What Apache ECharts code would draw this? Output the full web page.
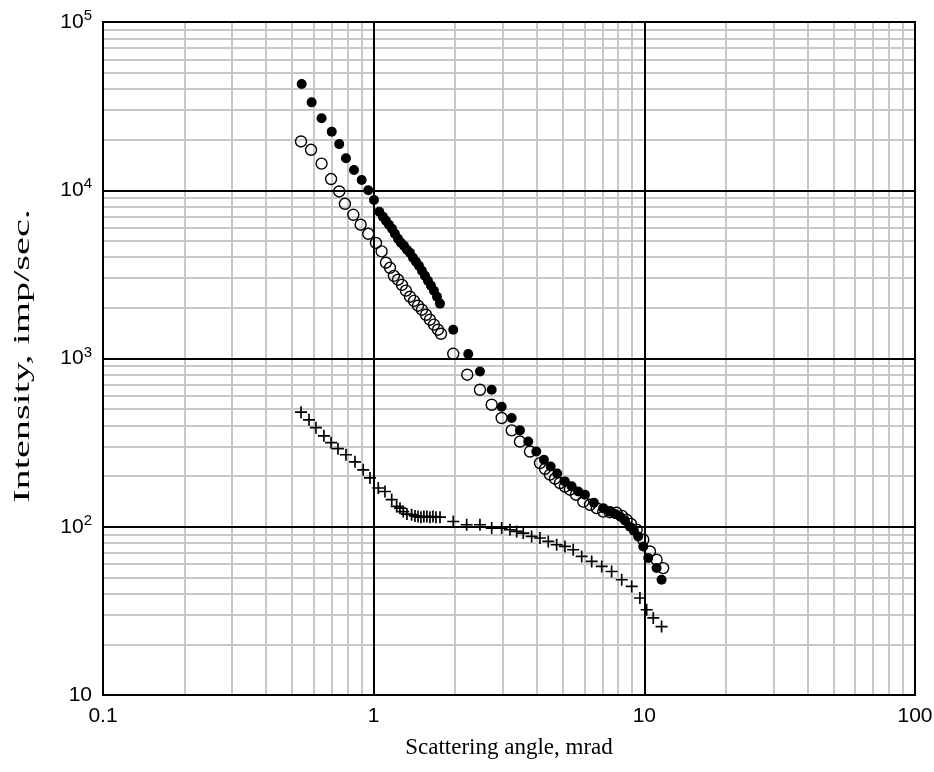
<!DOCTYPE html>
<html>
<head>
<meta charset="utf-8">
<script src="https://cdn.jsdelivr.net/npm/echarts@6/dist/echarts.min.js"></script>
<style>
  html, body { margin: 0; padding: 0; background: #fff; }
  #chart { width: 934px; height: 772px; }
</style>
</head>
<body>
<div id="chart"></div>
<script>
// filled circles
var filledX = [0.542, 0.590, 0.642, 0.700, 0.746, 0.790, 0.846, 0.903, 0.955, 1.003,
  1.049, 1.082, 1.110, 1.139, 1.169, 1.198, 1.230, 1.261, 1.294, 1.327,
  1.362, 1.397, 1.433, 1.470, 1.508, 1.547, 1.587, 1.628, 1.670, 1.714,
  1.758, 1.968, 2.236, 2.47, 2.729, 2.971, 3.235, 3.471, 3.725, 3.988,
  4.257, 4.508, 4.767, 5.089, 5.388, 5.699, 6.034, 6.513, 7.05, 7.46,
  7.79, 8.13, 8.48, 8.85, 9.15, 9.49, 9.91, 10.34, 11.10, 11.58];
var filledY = [42800, 33300, 26800, 22300, 18800, 15500, 13200, 11500, 10000, 8750,
  7460, 6960, 6590, 6240, 5900, 5510, 5150, 4880, 4680, 4430,
  4250, 3970, 3760, 3560, 3320, 3100, 2900, 2710, 2530, 2330,
  2120, 1483, 1063, 837, 652, 517, 443, 374, 321, 280,
  250, 228, 207, 186, 174, 162, 155, 139, 129, 123,
  119, 115, 109, 100, 94.7, 87.6, 76.4, 65.2, 56.8, 48.4];

// open circles
var openX = [0.539, 0.587, 0.642, 0.696, 0.746, 0.783, 0.841, 0.895, 0.955, 1.02,
  1.07, 1.110, 1.149, 1.188, 1.230, 1.272, 1.316, 1.362, 1.409, 1.458,
  1.508, 1.561, 1.614, 1.670, 1.728, 1.773, 1.968, 2.217, 2.47, 2.729,
  2.971, 3.235, 3.471, 3.78, 4.115, 4.294, 4.48, 4.676, 4.88, 5.089,
  5.31, 5.59, 5.95, 6.30, 6.67, 7.05, 7.46, 7.90, 8.27, 8.60,
  8.92, 9.37, 9.91, 10.49, 11.10, 11.74];
var openY = [19500, 17400, 14400, 11660, 9840, 8310, 7150, 6240, 5510, 4860,
  4330, 3710, 3460, 3100, 2940, 2740, 2530, 2330, 2200, 2060,
  1950, 1820, 1700, 1590, 1483, 1403, 1067, 801, 652, 531,
  443, 374, 321, 280, 239, 221, 204, 193, 182, 173,
  166, 155, 141, 135, 129, 123, 122, 121, 116, 110,
  104, 96, 83.7, 71.3, 63.7, 56.8];

// crosses
var crossX = [0.539, 0.577, 0.612, 0.655, 0.696, 0.738, 0.790, 0.853, 0.915, 0.969,
  1.04, 1.101, 1.166, 1.216, 1.251, 1.286, 1.327, 1.381, 1.421, 1.458,
  1.495, 1.533, 1.573, 1.614, 1.656, 1.699, 1.758, 1.968, 2.206, 2.47,
  2.729, 2.971, 3.188, 3.376, 3.570, 3.834, 4.115, 4.416, 4.743, 5.089,
  5.46, 5.87, 6.39, 6.96, 7.57, 8.25, 8.98, 9.63, 10.2, 10.79,
  11.58];
var crossY = [480, 432, 388, 347, 316, 291, 268, 243, 218, 195,
  170, 162, 145, 132, 129, 123, 119, 118, 116, 115,
  114, 115, 115, 114, 115, 114, 114, 107.5, 102.8, 102.8,
  98.2, 98.2, 96.0, 93.8, 91.7, 87.6, 85.7, 81.8, 78.2, 76.4,
  73.0, 66.6, 62.2, 58.1, 54.2, 48.4, 44.2, 37.7, 32.1, 28.7,
  25.5];

// decades (major grid / tick labels)
var xDecades = [0.1, 1, 10, 100];
var yDecades = [10, 100, 1000, 10000, 100000];

function pairs(xs, ys) {
  return xs.map(function (x, i) { return [x, ys[i]]; });
}

// gray minor lines at 2..9 of each decade
function minorLines(decades, key) {
  var out = [];
  for (var d = 0; d < decades.length - 1; d++) {
    for (var m = 2; m <= 9; m++) {
      var o = {};
      o[key] = decades[d] * m;
      out.push(o);
    }
  }
  return out;
}
function majorLines(decades, key) {
  return decades.map(function (v) { var o = {}; o[key] = v; return o; });
}

var chart = echarts.init(document.getElementById('chart'));

var plus = 'path://M4.3,0 H5.7 V4.3 H10 V5.7 H5.7 V10 H4.3 V5.7 H0 V4.3 H4.3 Z';

var option = {
  backgroundColor: '#ffffff',
  animation: false,
  grid: {
    left: 103,
    right: 19,
    top: 22,
    bottom: 77,
    containLabel: false,
    outerBoundsMode: 'none',
    show: true,
    borderColor: '#000',
    borderWidth: 2,
    backgroundColor: 'transparent'
  },
  graphic: [{
    type: 'text',
    x: 23,
    y: 356,
    rotation: Math.PI / 2,
    scaleX: 1.75,
    silent: true,
    style: {
      text: 'Intensity, imp/sec.',
      font: '23px "Liberation Serif"',
      fill: '#000',
      align: 'center',
      verticalAlign: 'middle'
    }
  }],
  xAxis: {
    type: 'log',
    logBase: 10,
    min: 0.1,
    max: 100,
    name: 'Scattering angle, mrad',
    nameLocation: 'middle',
    nameGap: 41,
    nameTextStyle: { fontFamily: 'Liberation Serif', fontSize: 23, color: '#000' },
    axisLine: { show: true, lineStyle: { color: '#000', width: 2 } },
    axisTick: { show: false },
    splitLine: { show: false },
    axisLabel: {
      color: '#000',
      fontFamily: 'Liberation Sans',
      fontSize: 21,
      margin: 11,
      formatter: function (v) { return String(+v.toPrecision(3)); }
    }
  },
  yAxis: {
    type: 'log',
    logBase: 10,
    min: 10,
    max: 100000,
    axisLine: { show: true, lineStyle: { color: '#000', width: 2 } },
    axisTick: { show: false },
    splitLine: { show: false },
    axisLabel: {
      color: '#000',
      margin: 11,
      formatter: function (v) {
        var e = Math.round(Math.log10(v));
        if (e === 1) return '{b|10}';
        return '{b|10}{s|' + e + '}';
      },
      rich: {
        b: { fontFamily: 'Liberation Sans', fontSize: 21, lineHeight: 27, color: '#000' },
        s: { fontFamily: 'Liberation Sans', fontSize: 15, lineHeight: 15, verticalAlign: 'top', color: '#000' }
      }
    }
  },
  series: [
    {
      name: 'minor grid',
      type: 'scatter',
      data: [],
      silent: true,
      markLine: {
        z: 1,
        silent: true,
        symbol: ['none', 'none'],
        label: { show: false },
        lineStyle: { type: 'solid', color: '#c8c8c8', width: 2 },
        data: minorLines(xDecades, 'xAxis').concat(minorLines(yDecades, 'yAxis'))
      }
    },
    {
      name: 'major grid',
      type: 'scatter',
      data: [],
      silent: true,
      markLine: {
        z: 1.5,
        silent: true,
        symbol: ['none', 'none'],
        label: { show: false },
        lineStyle: { type: 'solid', color: '#000', width: 2 },
        data: majorLines(xDecades, 'xAxis').concat(majorLines(yDecades, 'yAxis'))
      }
    },
    {
      name: 'cross',
      type: 'scatter',
      z: 3,
      symbol: plus,
      symbolSize: 12,
      itemStyle: { color: '#000', opacity: 1 },
      data: pairs(crossX, crossY)
    },
    {
      name: 'filled',
      type: 'scatter',
      z: 3,
      symbol: 'circle',
      symbolSize: 10,
      itemStyle: { color: '#000', opacity: 1 },
      data: pairs(filledX, filledY)
    },
    {
      name: 'open',
      type: 'scatter',
      z: 4,
      symbol: 'circle',
      symbolSize: 11,
      itemStyle: { color: 'rgba(255,255,255,0)', borderColor: '#000', borderWidth: 1.4, opacity: 1 },
      data: pairs(openX, openY)
    }
  ]
};

chart.setOption(option);
</script>
</body>
</html>
